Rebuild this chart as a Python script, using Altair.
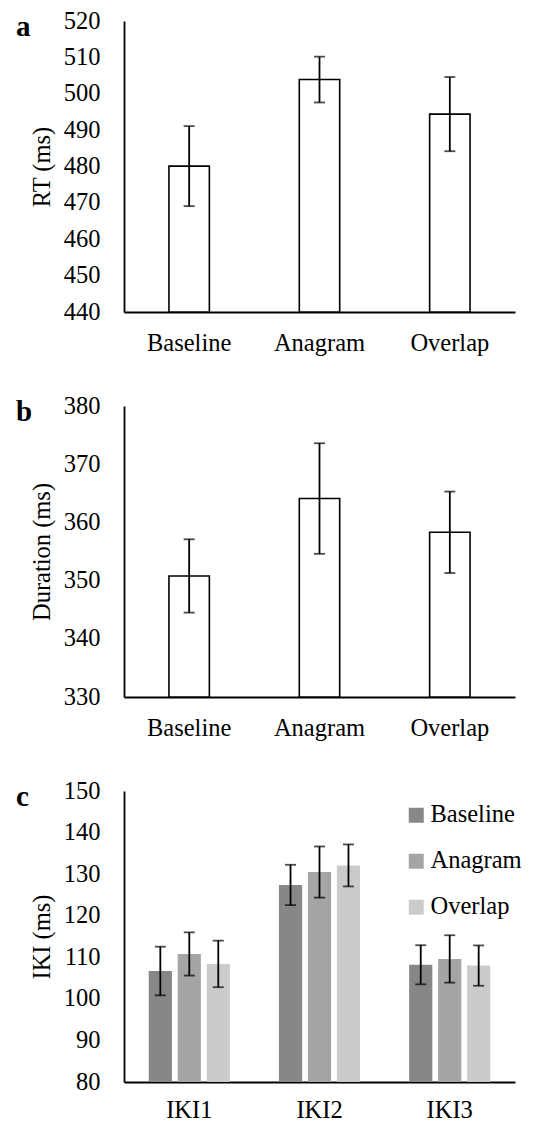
import altair as alt
import pandas as pd

conds = ["Baseline", "Anagram", "Overlap"]

rt_mean = [480.1, 503.9, 494.4]
rt_err = [11.0, 6.3, 10.2]

dur_mean = [350.8, 364.1, 358.3]
dur_err = [6.3, 9.5, 7.0]

iki_labels = ["IKI1", "IKI2", "IKI3"]
iki_mean = {
    "Baseline": [106.7, 127.4, 108.2],
    "Anagram": [110.8, 130.5, 109.6],
    "Overlap": [108.4, 132.1, 108.0],
}
iki_err = {
    "Baseline": [5.85, 4.85, 4.7],
    "Anagram": [5.2, 6.15, 5.7],
    "Overlap": [5.6, 5.05, 4.85],
}
grays = ["#878787", "#a5a5a5", "#cbcbcb"]

FONT = "Liberation Serif"
FS = 24.5
W, H = 391, 291


def yax(ticks):
    return alt.Axis(values=ticks, labelPadding=24, titlePadding=9, labelOverlap=False)


def simple_panel(means, errs, domain, ticks, ytitle, letter):
    df = pd.DataFrame({"cond": conds, "m": means, "e": errs})
    df["lo"] = df["m"] - df["e"]
    df["hi"] = df["m"] + df["e"]
    x = alt.X("cond:N", sort=conds, title=None,
              scale=alt.Scale(paddingInner=0.69, paddingOuter=0.345),
              axis=alt.Axis(labelAngle=0, labelPadding=19))
    ysc = alt.Scale(domain=domain, nice=False, zero=False)
    base = alt.Chart(df)
    bars = base.mark_bar(fill="white", stroke="black", strokeWidth=1.6).encode(
        x=x,
        y=alt.Y("m:Q", title=ytitle, scale=ysc, axis=yax(ticks)),
        y2=alt.datum(domain[0]),
    )
    rules = base.mark_rule(color="black", strokeWidth=1.8).encode(
        x=x, y=alt.Y("lo:Q", title=ytitle, axis=yax(ticks)), y2="hi:Q")
    cap_lo = base.mark_tick(color="black", thickness=1.8, size=11).encode(
        x=x, y=alt.Y("lo:Q", title=ytitle, axis=yax(ticks)))
    cap_hi = base.mark_tick(color="black", thickness=1.8, size=11).encode(
        x=x, y=alt.Y("hi:Q", title=ytitle, axis=yax(ticks)))
    lab = alt.Chart(pd.DataFrame({"t": [letter]})).mark_text(
        font=FONT, fontSize=29, fontWeight="bold", align="left", baseline="alphabetic"
    ).encode(text="t:N", x=alt.value(-108), y=alt.value(15))
    return alt.layer(bars, rules, cap_lo, cap_hi, lab).properties(width=W, height=H)


pa = simple_panel(rt_mean, rt_err, [440, 520], list(range(440, 521, 10)), "RT (ms)", "a")
pb = simple_panel(dur_mean, dur_err, [330, 380], list(range(330, 381, 10)), "Duration (ms)", "b")

rows = []
for c in conds:
    for i, k in enumerate(iki_labels):
        m = iki_mean[c][i]
        e = iki_err[c][i]
        rows.append({"iki": k, "cond": c, "m": m, "lo": m - e, "hi": m + e})
dfc = pd.DataFrame(rows)

cticks = list(range(80, 151, 10))
xc = alt.X("iki:N", sort=iki_labels, title=None,
           scale=alt.Scale(paddingInner=0.377, paddingOuter=0.19),
           axis=alt.Axis(labelAngle=0, labelPadding=16))
xo = alt.XOffset("cond:N", sort=conds, scale=alt.Scale(paddingInner=0.2, paddingOuter=0))
basec = alt.Chart(dfc)
barsc = basec.mark_bar().encode(
    x=xc, xOffset=xo,
    y=alt.Y("m:Q", title="IKI (ms)",
            scale=alt.Scale(domain=[80, 150], nice=False, zero=False),
            axis=yax(cticks)),
    y2=alt.datum(80),
    color=alt.Color("cond:N", sort=conds,
                    scale=alt.Scale(domain=conds, range=grays),
                    legend=alt.Legend(title=None, orient="none", legendX=280, legendY=12,
                                      symbolType="square", symbolSize=225,
                                      symbolStrokeWidth=0, labelFontSize=FS, labelFont=FONT,
                                      labelColor="black", rowPadding=21, labelOffset=2)),
)
rulesc = basec.mark_rule(color="black", strokeWidth=1.8).encode(
    x=xc, xOffset=xo, y=alt.Y("lo:Q", title="IKI (ms)", axis=yax(cticks)), y2="hi:Q")
capc_lo = basec.mark_tick(color="black", thickness=1.8, size=11).encode(
    x=xc, xOffset=xo, y=alt.Y("lo:Q", title="IKI (ms)", axis=yax(cticks)))
capc_hi = basec.mark_tick(color="black", thickness=1.8, size=11).encode(
    x=xc, xOffset=xo, y=alt.Y("hi:Q", title="IKI (ms)", axis=yax(cticks)))
labc = alt.Chart(pd.DataFrame({"t": ["c"]})).mark_text(
    font=FONT, fontSize=29, fontWeight="bold", align="left", baseline="alphabetic"
).encode(text="t:N", x=alt.value(-108), y=alt.value(15))
pc = alt.layer(barsc, rulesc, capc_lo, capc_hi, labc).properties(width=W, height=H)

chart = alt.vconcat(pa, pb, pc, spacing=38).resolve_scale(
    color="independent"
).resolve_legend(color="independent").properties(
    padding={"left": 8, "top": 0, "right": 5, "bottom": 2}
).configure_view(stroke=None).configure_axis(
    grid=False, ticks=False, domainColor="black", domainWidth=1.8,
    labelFont=FONT, labelFontSize=FS, labelColor="black",
    titleFont=FONT, titleFontSize=FS, titleFontWeight="normal", titleColor="black",
    labelOverlap=False,
).configure_axisX(domainWidth=2)

chart.save("out.html", embed_options={"renderer": "svg", "actions": False})
